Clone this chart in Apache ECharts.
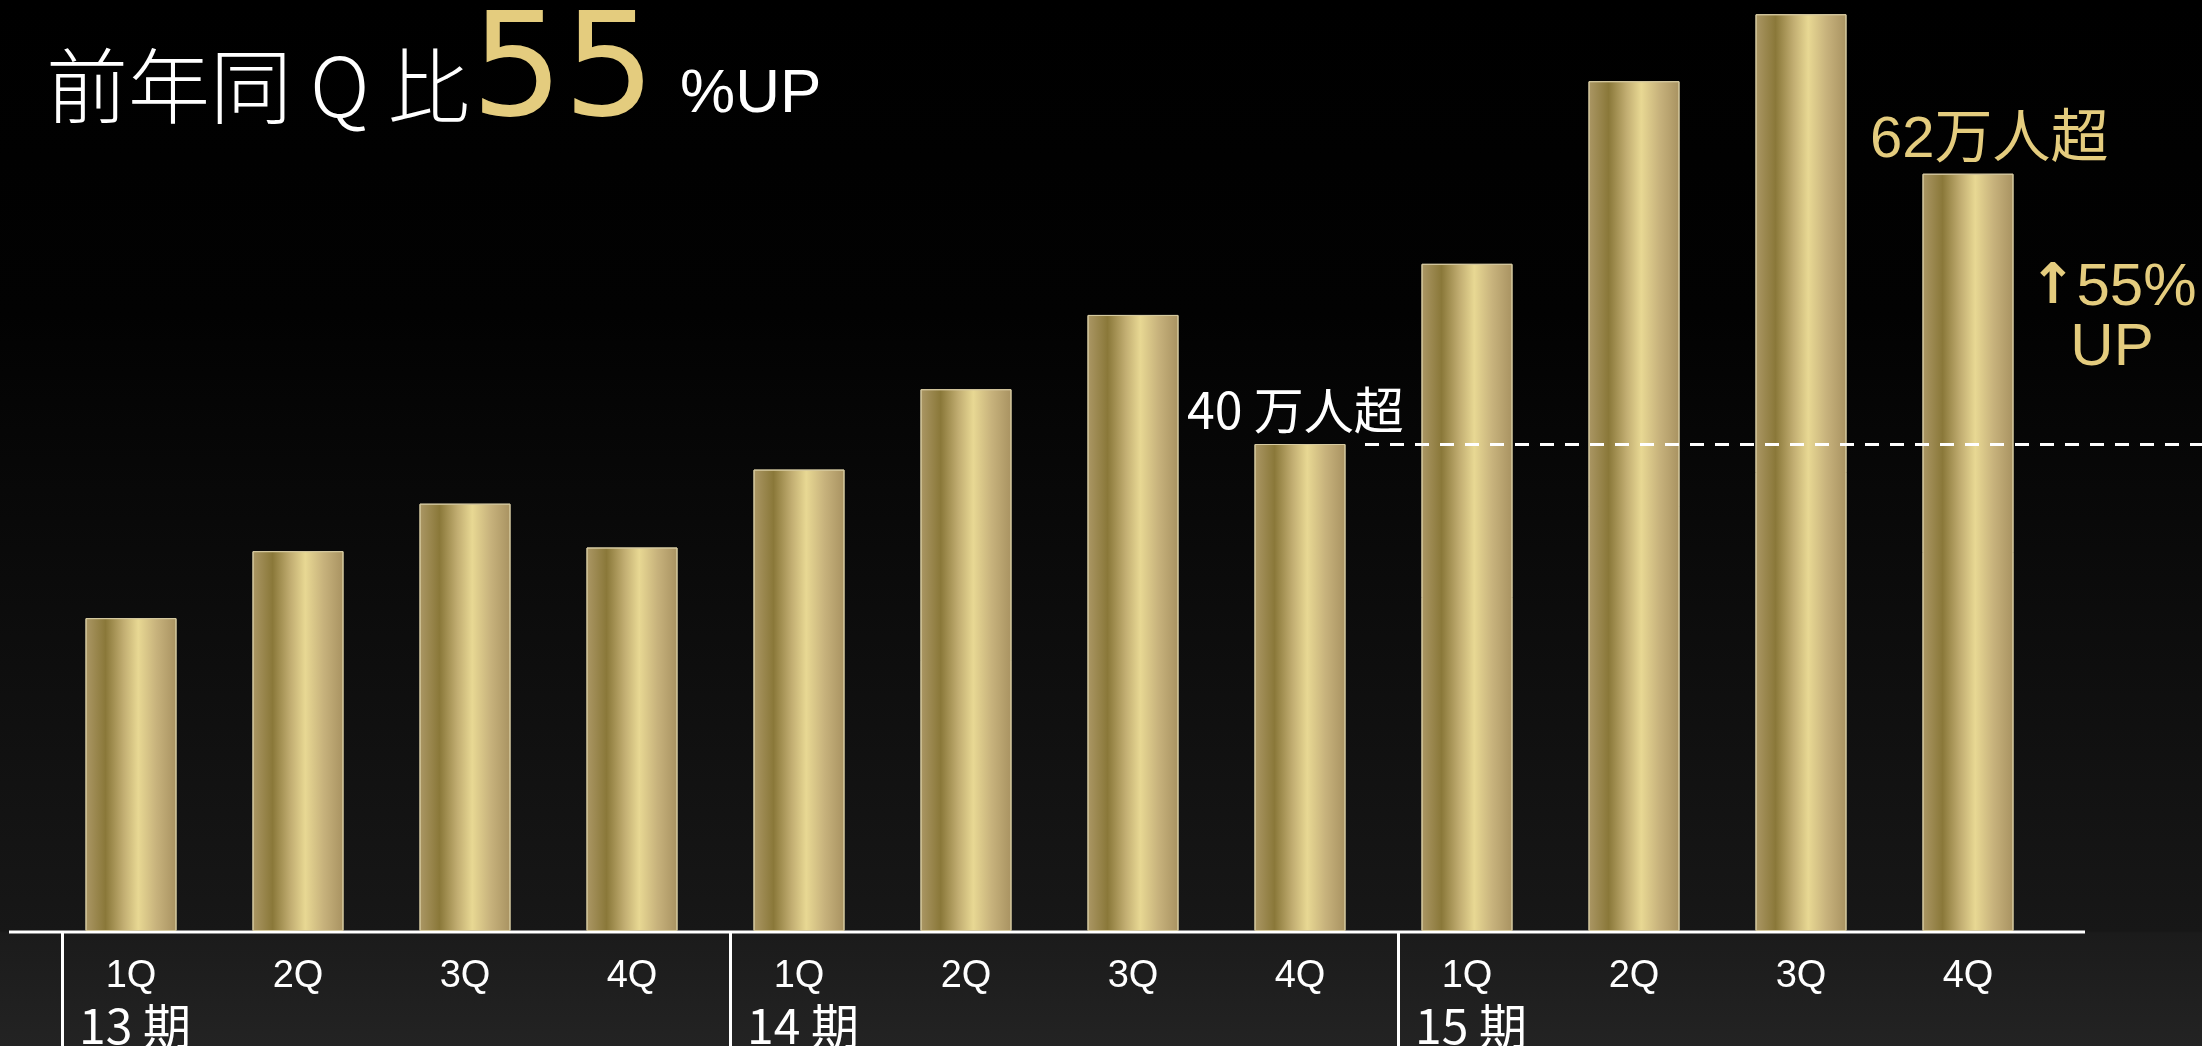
<!DOCTYPE html>
<html>
<head>
<meta charset="utf-8">
<script src="https://cdn.jsdelivr.net/npm/echarts@6/dist/echarts.min.js"></script>
<style>
  html, body { margin: 0; padding: 0; background: #000; }
  #main { width: 2202px; height: 1046px; }
</style>
</head>
<body>
<div id="main"></div>
<script>
// quarterly members (万人), 13期 1Q .. 15期 4Q
const quarters = ["1Q", "2Q", "3Q", "4Q", "1Q", "2Q", "3Q", "4Q", "1Q", "2Q", "3Q", "4Q"];
const periods = ["13 期", "14 期", "15 期"];
const members = [25.7, 31.2, 35.1, 31.5, 37.9, 44.5, 50.6, 40.0, 54.8, 69.8, 75.3, 62.2];
const threshold = 40;

const goldBar = {
  type: "linear", x: 0, y: 0, x2: 1, y2: 0,
  colorStops: [
    { offset: 0, color: "#ab9765" },
    { offset: 0.22, color: "#8a7839" },
    { offset: 0.42, color: "#c2ae72" },
    { offset: 0.58, color: "#e8d893" },
    { offset: 0.78, color: "#c7b27c" },
    { offset: 1, color: "#a89261" },
  ],
};
// text can't take a gradient fill, so a flat gold
const gold = "#e4cc7e";

var chartDom = document.getElementById("main");
var myChart = echarts.init(chartDom);
var option;

option = {
  backgroundColor: {
    type: "linear", x: 0, y: 0, x2: 0, y2: 1,
    colorStops: [
      { offset: 0, color: "#000000" },
      { offset: 0.3, color: "#020202" },
      { offset: 0.89, color: "#171717" },
      { offset: 0.892, color: "#1b1b1b" },
      { offset: 1, color: "#232323" },
    ],
  },
  animation: false,
  grid: { left: 47.5, right: 150.5, top: 5.7, bottom: 115 },
  xAxis: {
    type: "category",
    data: quarters,
    axisLine: { show: false },
    axisTick: { show: false },
    axisLabel: {
      color: "#ffffff",
      fontSize: 38,
      fontFamily: "Liberation Sans Narrow, Liberation Sans, sans-serif",
      margin: 27,
    },
  },
  yAxis: {
    type: "value",
    min: 0,
    max: 76,
    show: false,
    splitLine: { show: false },
  },
  series: [
    {
      type: "bar",
      data: members,
      barWidth: 91,
      itemStyle: { color: goldBar, borderColor: "#d6caa0", borderWidth: 1 },
      markLine: {
        silent: true,
        symbol: "none",
        label: { show: false },
        lineStyle: { color: "#ffffff", width: 3, type: [14, 11], opacity: 1 },
        data: [[{ yAxis: threshold, x: 1365 }, { yAxis: threshold, x: 2202 }]],
      },
    },
  ],
};

option && myChart.setOption(option);

// decorations placed from the axes
const baseY = myChart.convertToPixel({ yAxisIndex: 0 }, 0);
const graphics = [
  { type: "rect", shape: { x: 9, y: baseY - 0.5, width: 2076, height: 3 }, style: { fill: "#ffffff" } },
  {
    type: "text", x: 46, y: 86,
    style: { text: "前年同 Q 比", fill: "#ffffff", font: "300 82px 'Noto Sans CJK JP', sans-serif", verticalAlign: "middle" },
  },
  {
    type: "text", x: 471, y: 77,
    style: { text: "55", fill: gold, font: "145px 'DejaVu Sans', sans-serif", verticalAlign: "middle" },
  },
  {
    type: "text", x: 680, y: 95,
    style: { text: "%UP", fill: "#ffffff", font: "62px 'Liberation Sans', sans-serif", verticalAlign: "middle" },
  },
  {
    type: "text", x: 1870, y: 141,
    style: { text: "62万人超", fill: gold, font: "58px 'Liberation Sans', 'Noto Sans CJK JP', sans-serif", verticalAlign: "middle" },
  },
  {
    type: "text", x: 2113, y: 288,
    style: {
      text: "{a|↑}55%", fill: gold, font: "60px 'Liberation Sans', sans-serif", verticalAlign: "middle", align: "center",
      rich: { a: { fontFamily: "DejaVu Sans", fontSize: 56, fontWeight: "bold", fill: gold } },
    },
  },
  {
    type: "text", x: 2112, y: 348,
    style: { text: "UP", fill: gold, font: "60px 'Liberation Sans', sans-serif", verticalAlign: "middle", align: "center" },
  },
  {
    type: "text", x: 1187, y: 410,
    style: { text: "40 万人超", fill: "#ffffff", font: "50px 'Liberation Sans Narrow', 'Noto Sans CJK JP', sans-serif", verticalAlign: "middle" },
  },
];
periods.forEach(function (p, g) {
  const cx = myChart.convertToPixel({ xAxisIndex: 0 }, g * 4);
  graphics.push({
    type: "rect",
    shape: { x: cx - 70, y: baseY + 2, width: 3, height: 1046 - baseY },
    style: { fill: "#ffffff" },
  });
  graphics.push({
    type: "text", x: cx - 52, y: 1026,
    style: { text: p, fill: "#ffffff", font: "48px 'Liberation Sans Narrow', 'Noto Sans CJK JP', sans-serif", verticalAlign: "middle" },
  });
});
myChart.setOption({ graphic: graphics });
</script>
</body>
</html>
